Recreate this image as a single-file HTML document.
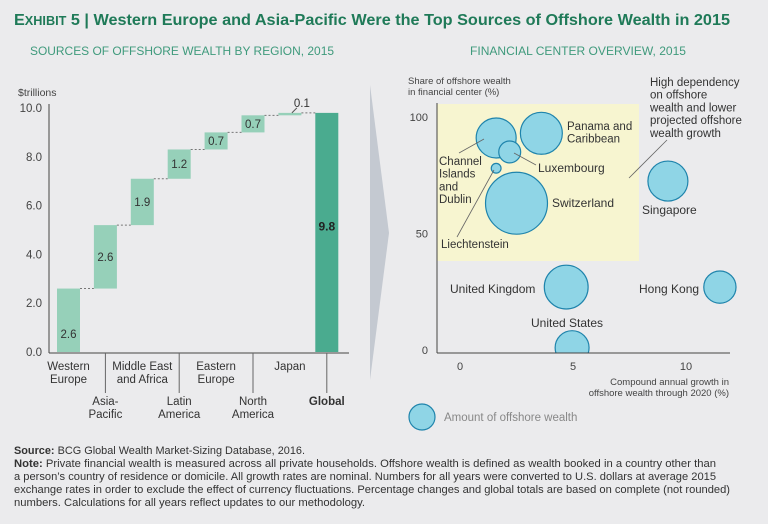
<!DOCTYPE html>
<html><head><meta charset="utf-8"><style>
html,body{margin:0;padding:0;background:#ebebed;}
svg{display:block;font-family:"Liberation Sans",sans-serif;}
</style></head><body>
<svg width="768" height="524" viewBox="0 0 768 524">
<rect width="768" height="524" fill="#ebebed"/>
<text x="14" y="25" fill="#1f7a58" font-weight="bold" font-size="16" textLength="716" lengthAdjust="spacingAndGlyphs">E<tspan font-size="12.5">XHIBIT</tspan> 5 | Western Europe and Asia-Pacific Were the Top Sources of Offshore Wealth in 2015</text>
<text x="30" y="55" fill="#3f9a7c" font-size="12" textLength="304" lengthAdjust="spacingAndGlyphs">SOURCES OF OFFSHORE WEALTH BY REGION, 2015</text>
<text x="470" y="55" fill="#3f9a7c" font-size="12" textLength="216" lengthAdjust="spacingAndGlyphs">FINANCIAL CENTER OVERVIEW, 2015</text>
<polygon points="370,85 389,233 370,380" fill="#c4c9d1"/>
<g id="wf"></g>
<g id="bb"></g>
<g font-size="11" fill="#333">
<text x="14" y="454" textLength="291" lengthAdjust="spacingAndGlyphs"><tspan font-weight="bold">Source:</tspan> BCG Global Wealth Market-Sizing Database, 2016.</text>
<text x="14" y="467" textLength="702" lengthAdjust="spacingAndGlyphs"><tspan font-weight="bold">Note:</tspan> Private financial wealth is measured across all private households. Offshore wealth is defined as wealth booked in a country other than</text>
<text x="14" y="480" textLength="702" lengthAdjust="spacingAndGlyphs">a person’s country of residence or domicile. All growth rates are nominal. Numbers for all years were converted to U.S. dollars at average 2015</text>
<text x="14" y="493" textLength="716" lengthAdjust="spacingAndGlyphs">exchange rates in order to exclude the effect of currency fluctuations. Percentage changes and global totals are based on complete (not rounded)</text>
<text x="14" y="506" textLength="351" lengthAdjust="spacingAndGlyphs">numbers. Calculations for all years reflect updates to our methodology.</text>
</g>
</svg>
<script>
// waterfall data
const wfCategories = ["Western Europe","Asia-Pacific","Middle East and Africa","Latin America","Eastern Europe","North America","Japan"];
const wfValues = [2.6,2.6,1.9,1.2,0.7,0.7,0.1];
const wfTotal = 9.8;
const wfTicks = [0,2,4,6,8,10];
const wfTickLabels = ["0.0","2.0","4.0","6.0","8.0","10.0"];
// bubble data
const bbNames = ["Channel Islands and Dublin","Panama and Caribbean","Luxembourg","Liechtenstein","Switzerland","Singapore","United Kingdom","Hong Kong","United States"];
const bbGrowth = [1.6,3.6,2.2,1.6,2.5,9.2,4.7,11.5,4.96];
const bbShare = [91,93,85,78,63,72.5,27,27,1];
const bbAmount = [1.0,1.1,0.3,0.06,2.4,1.0,1.2,0.65,0.72];
const bbXTicks = [0,5,10];
const bbYTicks = [0,50,100];

const NS="http://www.w3.org/2000/svg";
function mk(p,t,a,txt){const e=document.createElementNS(NS,t);for(const k in a)e.setAttribute(k,a[k]);if(txt!==undefined)e.textContent=txt;p.appendChild(e);return e;}

// ---- waterfall
const wf=document.getElementById('wf');
const wy=v=>352-v*24.4;
const slot=36.9, x0=49;
const wx=i=>x0+8+i*slot;
const bw=23;
let e=mk(wf,'text',{x:18,y:96,'font-size':10.5,fill:'#444'},'$trillions');


wfTicks.forEach((t,i)=>{const l=mk(wf,'text',{x:42,y:wy(t)+4,'font-size':11.5,fill:'#444','text-anchor':'end'},wfTickLabels[i]);

});
e=mk(wf,'line',{x1:49,y1:104,x2:49,y2:353,stroke:'#444','stroke-width':1});


let cum=0;
wfValues.forEach((v,i)=>{
  const top=wy(cum+v), bot=wy(cum);
  const r=mk(wf,'rect',{x:wx(i),y:top,width:bw,height:Math.max(bot-top,1.5),fill:'#96d0b9'});
  
  
  const nx=i<wfValues.length-1?wx(i+1):wx(7);
  const c=mk(wf,'line',{x1:wx(i)+bw,y1:top,x2:nx,y2:top,stroke:'#777','stroke-width':1,'stroke-dasharray':'2,2'});
  
  
  let lb;
  if(bot-top>14){lb=mk(wf,'text',{x:wx(i)+bw/2,y:(i===0?bot-(bot-top)*0.28:(top+bot)/2)+4,'font-size':11.5,fill:'#333','text-anchor':'middle'},v.toFixed(1));}
  else{lb=mk(wf,'text',{x:wx(i)+bw/2+12,y:top-6,'font-size':11.5,fill:'#333','text-anchor':'middle'},v.toFixed(1));
    const ll=mk(wf,'line',{x1:wx(i)+bw/2+2,y1:top,x2:wx(i)+bw/2+7,y2:top-5,stroke:'#555'});
    
    }
  
  
  cum+=v;
});
e=mk(wf,'rect',{x:wx(7),y:wy(wfTotal),width:bw,height:wy(0)-wy(wfTotal),fill:'#4aab8f'});


e=mk(wf,'text',{x:wx(7)+bw/2,y:(wy(wfTotal)+wy(0))/2-2,'font-size':12,'font-weight':'bold',fill:'#222','text-anchor':'middle'},wfTotal.toFixed(1));


e=mk(wf,'line',{x1:49,y1:353,x2:349,y2:353,stroke:'#444'});


const cats=wfCategories.concat(["Global"]);
cats.forEach((c,i)=>{
  const cx=wx(i)+bw/2, low=i%2===1;
  if(low){const t=mk(wf,'line',{x1:cx,y1:353,x2:cx,y2:393,stroke:'#666'});
    
    }
  const parts = c==="Middle East and Africa"?["Middle East","and Africa"]:c==="Asia-Pacific"?["Asia-","Pacific"]:c.split(' ');
  parts.forEach((p,j)=>{const t=mk(wf,'text',{x:cx,y:(low?405:370)+j*13,'font-size':11.5,fill:'#333','text-anchor':'middle','font-weight':c==="Global"?'bold':'normal'},p);
    
    });
});

// ---- bubble chart
const bb=document.getElementById('bb');
const bx=v=>460+v*22.6;
const by=v=>350-v*2.33;
const br=a=>20*Math.sqrt(a);
e=mk(bb,'rect',{x:437,y:104,width:202,height:157,fill:'#f7f5d0'});


const defs=mk(bb,'defs',{});const cp=mk(defs,'clipPath',{id:'pc'});mk(cp,'rect',{x:380,y:60,width:388,height:293});
const bg=mk(bb,'g',{'clip-path':'url(#pc)'});
bbNames.forEach((n,i)=>{const c=mk(bg,'circle',{cx:bx(bbGrowth[i]),cy:by(bbShare[i]),r:br(bbAmount[i]),fill:'#8fd5e6',stroke:'#1f84ac','stroke-width':1.2});
  
  });
e=mk(bb,'line',{x1:437,y1:103,x2:437,y2:353,stroke:'#444'});


e=mk(bb,'line',{x1:437,y1:353,x2:730,y2:353,stroke:'#444'});


bbYTicks.forEach(t=>{const l=mk(bb,'text',{x:428,y:by(t)+4,'font-size':11,fill:'#444','text-anchor':'end'},t);
  
  });
bbXTicks.forEach(t=>{const l=mk(bb,'text',{x:bx(t),y:370,'font-size':11,fill:'#444','text-anchor':'middle'},t);
  
  });
function txt(lines,x,y,name,anchor,size,lh,fill){lh=lh||13;lines.forEach((s,j)=>{const t=mk(bb,'text',{x:x,y:y+j*lh,'font-size':size||12,fill:fill||'#333','text-anchor':anchor||'start'},s);
  
  });}
txt(["Share of offshore wealth","in financial center (%)"],408,84,'y-axis-title','start',9.5,11,'#444');
txt(["Compound annual growth in","offshore wealth through 2020 (%)"],729,385,'x-axis-title','end',9.5,11,'#444');
txt(["High dependency","on offshore","wealth and lower","projected offshore","wealth growth"],650,86,'zone-annotation','start',11.5,12.7);
txt(["Panama and","Caribbean"],567,130,'label-panama','start',11.5,12.5);
txt(["Luxembourg"],538,172,'label-luxembourg');
txt(["Switzerland"],552,207,'label-switzerland');
txt(["Singapore"],642,214,'label-singapore');
txt(["Channel","Islands","and","Dublin"],439,165,'label-channel-islands','start',11.5,12.7);
txt(["Liechtenstein"],441,248,'label-liechtenstein','start',11.5);
txt(["United Kingdom"],450,293,'label-uk');
txt(["Hong Kong"],639,293,'label-hong-kong');
txt(["United States"],531,327,'label-us');
[[459,153,484,139],[514,153,536,165],[457,237,494,170],[629,178,667,140]].forEach(a=>{const l=mk(bb,'line',{x1:a[0],y1:a[1],x2:a[2],y2:a[3],stroke:'#666','stroke-width':0.8});
  
  });
e=mk(bb,'circle',{cx:422,cy:417,r:13,fill:'#8fd5e6',stroke:'#1f84ac','stroke-width':1.2});


txt(["Amount of offshore wealth"],444,421,'legend-label','start',11.5,12,'#888');
</script>
</body></html>
